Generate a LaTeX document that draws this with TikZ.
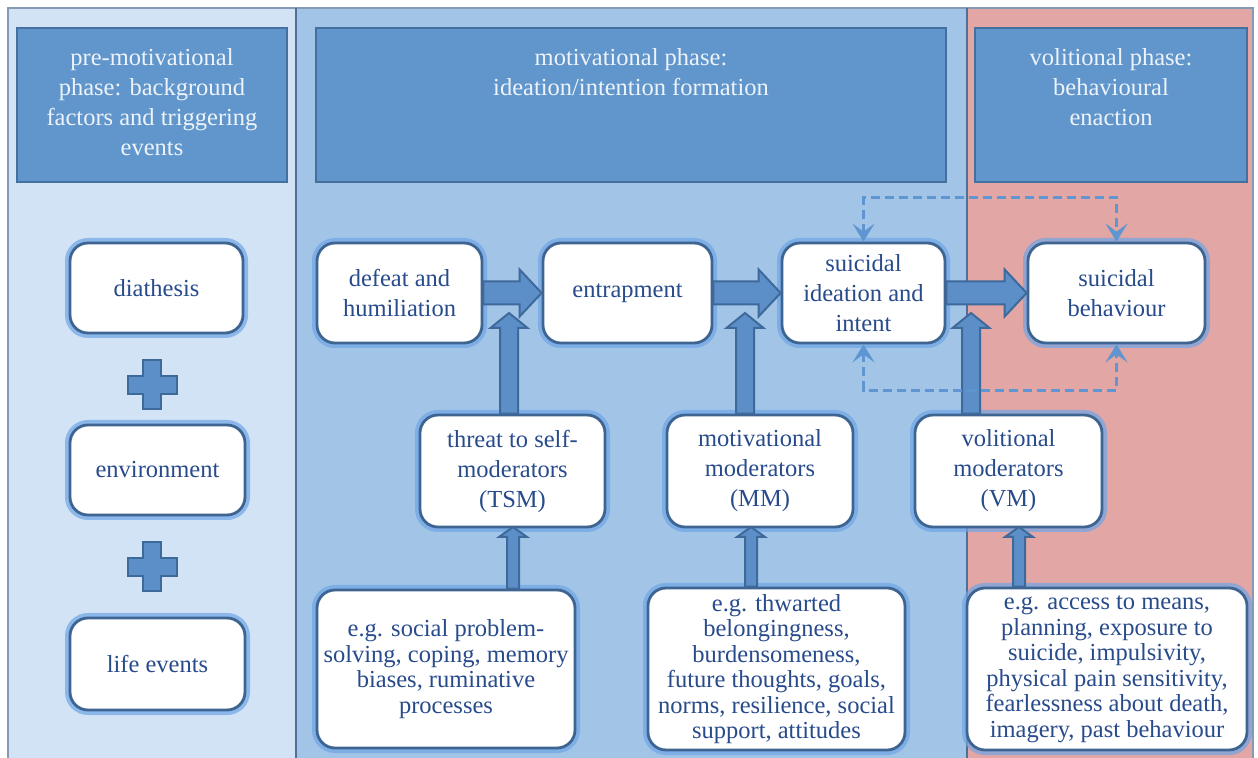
\documentclass[tikz,border=0pt]{standalone}
\usepackage{fontspec}
\setmainfont{Liberation Serif}
\usetikzlibrary{calc,arrows.meta}
\definecolor{panelL}{RGB}{210,227,245}
\definecolor{panelM}{RGB}{161,196,231}
\definecolor{panelR}{RGB}{226,166,164}
\definecolor{panelline}{RGB}{80,110,150}
\definecolor{hdrfill}{RGB}{96,150,203}
\definecolor{hdrline}{RGB}{68,112,160}
\definecolor{hdrtext}{RGB}{238,243,250}
\definecolor{boxline}{RGB}{62,100,145}
\definecolor{glow}{RGB}{110,165,230}
\definecolor{boxtext}{RGB}{40,75,140}
\definecolor{arrfill}{RGB}{92,143,200}
\definecolor{arrline}{RGB}{62,105,155}
\definecolor{dashc}{RGB}{95,150,210}
\tikzset{
 wbox/.style={draw=boxline, line width=1.4pt, fill=white, rounded corners=9pt, inner sep=0pt,
   align=center, text=boxtext, font=\fontsize{12.25}{15}\selectfont,
   preaction={draw=glow, line width=5pt, draw opacity=0.7}},
 ebox/.style={wbox, font=\fontsize{12.25}{12.75}\selectfont},
 hdr/.style={draw=hdrline, line width=1.4pt, fill=hdrfill, inner sep=0pt, minimum height=77pt},
 hdrlab/.style={anchor=north, yshift=-11pt, inner sep=0pt, align=center, text=hdrtext,
   font=\fontsize{12.25}{15}\selectfont},
 barrow/.style={fill=arrfill, draw=arrline, line width=1pt, line join=miter},
 dashcon/.style={draw=dashc, line width=1.5pt, dash pattern=on 4.5pt off 2.5pt,
   {Stealth[length=9pt,width=11pt,inset=4pt]}-{Stealth[length=9pt,width=11pt,inset=4pt]}},
 plussign/.style={fill=arrfill, draw=arrline, line width=1pt},
}
\newcommand\hbig[2]{\filldraw[barrow] ($(#1.east)+(0,-11.5)$) -- ($(#2.west)+(-22,-11.5)$) -- ($(#2.west)+(-22,-23.5)$) -- (#2.west) -- ($(#2.west)+(-22,23.5)$) -- ($(#2.west)+(-22,11.5)$) -- ($(#1.east)+(0,11.5)$) -- cycle;}
\newcommand\varr[5]{\filldraw[barrow] ($(#2 |- #1.north)+(-#3,0)$) -- ($(#2)+(-#3,#5)$) -- ($(#2)+(-#4,#5)$) -- (#2) -- ($(#2)+(#4,#5)$) -- ($(#2)+(#3,#5)$) -- ($(#2 |- #1.north)+(#3,0)$) -- cycle;}
\begin{document}
\begin{tikzpicture}[x=0.5pt,y=-0.5pt]
\useasboundingbox (0,0) rectangle (1258,758);
% panels
\fill[panelL] (8,8) rectangle (296,758);
\fill[panelM] (296,8) rectangle (967,758);
\fill[panelR] (967,8) rectangle (1253,758);
\draw[panelline!70, line width=1pt] (8,758) -- (8,8) -- (1253,8) -- (1253,758);
\draw[panelline, line width=1.2pt] (296,8) -- (296,758);
\draw[panelline, line width=1.2pt] (967,8) -- (967,758);
% headers
\node[hdr, minimum width=135pt, label={[hdrlab]north:{pre-motivational\\phase: background\\factors and triggering\\events}}] (hL) at (152,105) {};
\node[hdr, minimum width=315pt, label={[hdrlab]north:{motivational phase:\\ideation/intention formation}}] (hM) at (631,105) {};
\node[hdr, minimum width=136pt, label={[hdrlab]north:{volitional phase:\\behavioural\\enaction}}] (hR) at (1111,105) {};
% left column
\node[wbox, minimum width=86.5pt, minimum height=45pt] (dia) at (156.5,288) {diathesis};
\node[wbox, minimum width=87.5pt, minimum height=45pt] (env) at (157.5,470) {environment};
\node[wbox, minimum width=87.5pt, minimum height=46pt] (life) at (157.5,664) {life events};
\foreach \py in {385,567}{
 \filldraw[plussign, shift={(152,\py)}] (-9,-24.5) -- (9,-24.5) -- (9,-9) -- (24.5,-9) -- (24.5,9) -- (9,9) -- (9,24.5) -- (-9,24.5) -- (-9,9) -- (-24.5,9) -- (-24.5,-9) -- (-9,-9) -- cycle;
}
% main row
\node[wbox, minimum width=82.5pt, minimum height=50pt] (def) at (399.5,293) {defeat and\\humiliation};
\node[wbox, minimum width=84.5pt, minimum height=50pt] (ent) at (627.5,293) {entrapment};
\node[wbox, minimum width=81.5pt, minimum height=50pt] (ide) at (863.5,293) {suicidal\\ideation and\\intent};
\node[wbox, minimum width=88.5pt, minimum height=50pt] (beh) at (1116.5,293) {suicidal\\behaviour};
% moderators
\node[wbox, minimum width=92.5pt, minimum height=56pt] (tsm) at (512.5,471) {threat to self-\\moderators\\(TSM)};
\node[wbox, minimum width=93pt, minimum height=56pt] (mm) at (760,471) {motivational\\moderators\\(MM)};
\node[wbox, minimum width=93.5pt, minimum height=56pt] (vm) at (1008.5,471) {volitional\\moderators\\(VM)};
% examples
\node[ebox, minimum width=129pt, minimum height=79pt] (extsm) at (446,669) {e.g. social problem-\\solving, coping, memory\\biases, ruminative\\processes};
\node[ebox, minimum width=128.5pt, minimum height=81pt] (exmm) at (776.5,669) {e.g. thwarted\\belongingness,\\burdensomeness,\\future thoughts, goals,\\norms, resilience, social\\support, attitudes};
\node[ebox, minimum width=140pt, minimum height=81pt] (exvm) at (1107,669) {e.g. access to means,\\planning, exposure to\\suicide, impulsivity,\\physical pain sensitivity,\\fearlessness about death,\\imagery, past behaviour};
% big horizontal arrows
\hbig{def}{ent}
\hbig{ent}{ide}
\hbig{ide}{beh}
% vertical arrows
\coordinate (tipT) at (509,313);
\coordinate (tipM) at (745,313);
\coordinate (tipV) at (971,313);
\varr{tsm}{tipT}{9}{18.5}{15}
\varr{mm}{tipM}{9}{18.5}{15}
\varr{vm}{tipV}{9}{18.5}{15}
\coordinate (lowT) at (513,527);
\coordinate (lowM) at (751,527);
\coordinate (lowV) at (1019,527);
\varr{extsm}{lowT}{6}{14}{10}
\varr{exmm}{lowM}{6}{14}{10}
\varr{exvm}{lowV}{6}{14}{10}
% dashed feedback connectors
\draw[dashcon] (ide.north) -- ++(0,-44) -| (beh.north);
\draw[dashcon] (ide.south) -- ++(0,46) -| (beh.south);
\end{tikzpicture}
\end{document}
